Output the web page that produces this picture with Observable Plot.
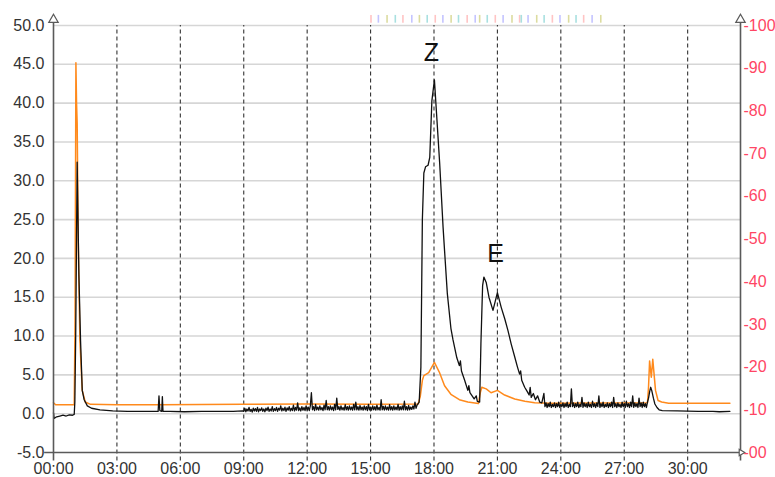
<!DOCTYPE html>
<html><head><meta charset="utf-8">
<script src="https://cdn.jsdelivr.net/npm/d3@7"></script>
<script src="https://cdn.jsdelivr.net/npm/@observablehq/plot@0.6"></script>
<style>body{margin:0;background:#fff} svg{display:block}</style>
</head><body><div id="chart"></div>
<script>
// ---- data (hours elapsed, value) ----
const leftTicks = [-5, 0, 5, 10, 15, 20, 25, 30, 35, 40, 45, 50];
const rightTicks = [100, 90, 80, 70, 60, 50, 40, 30, 20, 10, 0];
const rightTickLabels = ["100", "90", "80", "70", "60", "50", "40", "30", "20", "10", "00"];
const timeTicks = [0, 3, 6, 9, 12, 15, 18, 21, 24, 27, 30];
const gridHours = [3, 6, 9, 12, 15, 18, 21, 24, 27, 30];

const blackSegA = [[0,0.1],[0.03,-0.6],[0.15,-0.4],[0.3,-0.3],[0.45,-0.2],[0.6,-0.3],[0.75,-0.15],[0.9,-0.2],[0.98,-0.1],[1.01,1.5],[1.05,10],[1.12,32.4],[1.16,25],[1.2,18],[1.28,9.4],[1.36,3],[1.45,1.8],[1.6,1.0],[1.8,0.7],[2.2,0.5],[2.8,0.35],[3.5,0.3],[4.2,0.3],[4.95,0.3],[4.99,2.3],[5.03,0.4],[5.12,0.3],[5.15,2.2],[5.18,0.3],[5.5,0.3],[6.2,0.25],[7.0,0.3],[7.8,0.3],[8.5,0.3],[8.95,0.35]];
const blackSegB = [
[9.00,0.3],[9.05,0.7],[9.10,0.25],[9.15,0.6],[9.20,0.35],[9.25,0.8],[9.30,0.3],[9.35,0.55],[9.40,0.2],[9.45,0.7],
[9.50,0.35],[9.55,0.65],[9.60,0.3],[9.65,0.8],[9.70,0.25],[9.75,0.6],[9.80,0.4],[9.85,0.75],[9.90,0.3],[9.95,0.6],
[10.00,0.25],[10.05,0.7],[10.10,0.4],[10.15,0.85],[10.20,0.3],[10.25,0.6],[10.30,0.35],[10.35,0.9],[10.40,0.3],[10.45,0.65],
[10.50,0.4],[10.55,0.8],[10.60,0.3],[10.65,0.7],[10.70,0.45],[10.75,1.0],[10.80,0.35],[10.85,0.7],[10.90,0.4],[10.95,0.85],
[11.00,0.3],[11.05,0.75],[11.10,0.45],[11.15,0.9],[11.20,0.35],[11.25,0.7],[11.30,0.4],[11.35,1.1],[11.40,0.35],[11.45,0.8],
[11.50,0.45],[11.55,1.4],[11.60,0.4],[11.65,0.75],[11.70,0.35],[11.75,0.9],[11.80,0.45],[11.85,0.8],[11.90,0.4],[11.95,1.0],
[12.00,0.45],[12.05,0.85],[12.10,0.4],[12.15,1.0],[12.20,2.7],[12.25,0.5],[12.30,0.9],[12.35,0.4],[12.40,1.2],[12.45,0.5],
[12.50,0.85],[12.55,0.45],[12.60,1.0],[12.65,0.5],[12.70,0.8],[12.75,0.4],[12.80,1.1],[12.85,0.5],[12.90,1.7],[12.95,0.5],
[13.00,0.9],[13.05,0.45],[13.10,1.0],[13.15,0.5],[13.20,0.85],[13.25,0.4],[13.30,1.2],[13.35,0.5],[13.40,2.0],[13.45,0.55],
[13.50,0.9],[13.55,0.45],[13.60,1.0],[13.65,0.5],[13.70,0.8],[13.75,0.45],[13.80,1.15],[13.85,0.5],[13.90,0.9],[13.95,0.45],
[14.00,1.0],[14.05,0.5],[14.10,0.85],[14.15,0.45],[14.20,1.2],[14.25,0.5],[14.30,1.5],[14.35,0.5],[14.40,0.9],[14.45,0.45],
[14.50,1.05],[14.55,0.5],[14.60,0.85],[14.65,0.45],[14.70,1.0],[14.75,0.5],[14.80,0.9],[14.85,0.4],[14.90,1.2],[14.95,0.5],
[15.00,0.85],[15.05,0.45],[15.10,1.0],[15.15,0.5],[15.20,0.9],[15.25,0.45],[15.30,1.1],[15.35,0.5],[15.40,0.8],[15.45,0.45],
[15.50,1.8],[15.55,0.5],[15.60,0.95],[15.65,0.45],[15.70,1.0],[15.75,0.5],[15.80,0.85],[15.85,0.45],[15.90,1.15],[15.95,0.5],
[16.00,0.9],[16.05,0.45],[16.10,1.0],[16.15,0.5],[16.20,0.85],[16.25,0.5],[16.30,1.2],[16.35,0.45],[16.40,0.9],[16.45,0.5],
[16.50,1.0],[16.55,0.5],[16.60,1.6],[16.65,0.5],[16.70,0.9],[16.75,0.45],[16.80,1.05],[16.85,0.5],[16.90,0.85],[16.95,0.55],
[17.00,1.0],[17.05,0.6],[17.10,1.5],[17.15,0.7],[17.20,1.1]];
const blackSegC = [[17.3,1.5],[17.38,6],[17.45,25],[17.52,31],[17.6,31.8],[17.72,32],[17.8,33],[17.9,40.3],[18.02,43],[18.12,38.7],[18.27,32.2],[18.43,24],[18.5,21],[18.63,15.5],[18.8,11],[18.9,9.5],[19.08,7.2],[19.2,6.2],[19.25,6.8],[19.3,5.5],[19.45,4.3],[19.6,3.0],[19.65,3.6],[19.7,2.7],[19.9,1.9],[20.0,2.3],[20.05,1.6],[20.16,1.5],[20.22,9],[20.3,16.5],[20.36,17.6],[20.47,16.9],[20.6,15],[20.79,13.3],[20.9,14.5],[21.0,15.6],[21.18,13.7],[21.35,12.2],[21.5,10.7],[21.65,9],[21.82,7.3],[21.95,6],[22.05,5.1],[22.1,5.5],[22.15,4.3],[22.29,3.4],[22.4,2.9],[22.5,2.4],[22.55,3.4],[22.6,2.1],[22.7,2.6],[22.8,1.8],[22.9,2.3],[23.0,1.5],[23.1,1.4]];
const blackSegD = [
[23.20,2.6],[23.25,0.9],[23.30,1.4],[23.35,0.8],[23.40,1.3],[23.45,0.9],[23.50,1.5],[23.55,0.8],[23.60,1.2],[23.65,0.9],
[23.70,1.4],[23.75,0.8],[23.80,1.3],[23.85,0.9],[23.90,1.5],[23.95,0.8],[24.00,1.2],[24.05,0.9],[24.10,1.4],[24.15,0.8],
[24.20,1.3],[24.25,0.9],[24.30,1.5],[24.35,0.8],[24.40,1.2],[24.45,0.9],[24.50,3.2],[24.55,0.9],[24.60,1.4],[24.65,0.8],
[24.70,1.3],[24.75,0.9],[24.80,1.5],[24.85,0.8],[24.90,1.2],[24.95,0.9],[25.00,2.1],[25.05,0.8],[25.10,1.4],[25.15,0.9],
[25.20,1.3],[25.25,0.8],[25.30,1.5],[25.35,0.9],[25.40,1.2],[25.45,0.8],[25.50,1.6],[25.55,0.9],[25.60,1.3],[25.65,0.8],
[25.70,1.4],[25.75,0.9],[25.80,2.3],[25.85,0.8],[25.90,1.3],[25.95,0.9],[26.00,1.5],[26.05,0.8],[26.10,1.2],[26.15,0.9],
[26.20,1.4],[26.25,0.8],[26.30,1.3],[26.35,0.9],[26.40,1.5],[26.45,0.8],[26.50,2.1],[26.55,0.9],[26.60,1.3],[26.65,0.8],
[26.70,1.4],[26.75,0.9],[26.80,1.2],[26.85,0.8],[26.90,1.5],[26.95,0.9],[27.00,1.3],[27.05,0.8],[27.10,1.6],[27.15,0.9],
[27.20,1.3],[27.25,0.8],[27.30,1.5],[27.35,0.9],[27.40,2.3],[27.45,0.8],[27.50,1.4],[27.55,0.9],[27.60,1.3],[27.65,0.8],
[27.70,2.0],[27.75,0.9],[27.80,1.4],[27.85,0.8],[27.90,1.5],[27.95,0.9],[28.00,1.3],[28.05,0.8],[28.10,1.5],[28.15,2.0],
[28.2,2.8],[28.25,3.4],[28.3,3.0],[28.38,2.0],[28.45,1.25],[28.55,0.8],[28.65,0.5],[28.8,0.4],[29.5,0.35],[30.5,0.3],[31.2,0.3],[31.5,0.25],[32.0,0.3]];

const orangeSeries = [[0,1.4],[0.1,1.15],[0.98,1.15],[1.02,12],[1.06,45.2],[1.09,40],[1.12,37.4],[1.17,22.3],[1.25,9.4],[1.36,3.0],[1.5,1.5],[1.75,1.2],[3,1.15],[5,1.15],[9,1.2],[12,1.25],[15,1.2],[17.25,1.25],[17.35,2.2],[17.45,4.3],[17.52,4.9],[17.75,5.3],[18.02,6.6],[18.26,5.3],[18.5,3.6],[18.8,2.5],[19.2,1.8],[19.6,1.5],[20.1,1.3],[20.2,2.8],[20.26,3.4],[20.47,3.2],[20.7,2.7],[21.0,3.0],[21.34,2.4],[21.82,1.9],[22.3,1.6],[22.76,1.4],[23.5,1.35],[28.1,1.4],[28.15,3.5],[28.2,6.8],[28.28,4.7],[28.35,7.0],[28.48,3.0],[28.6,1.7],[28.77,1.5],[29.1,1.35],[32.0,1.35]];

const eventHours = [15.02,15.37,15.78,16.17,16.53,16.95,17.31,17.68,18.06,18.42,18.81,19.16,19.57,19.95,20.16,20.52,20.9,21.27,21.69,22.05,22.13,22.45,22.86,23.21,23.6,23.96,24.37,24.72,25.08,25.48,25.89];
const eventColors = ["#ffc4c4","#c4c4ff","#dcdca0","#a8e0e0","#ffc4c4","#c4c4ff","#dcdca0","#a8e0e0","#ffc4c4","#c4c4ff","#dcdca0","#a8e0e0","#ffc4c4","#c4c4ff","#dcdca0","#a8e0e0","#ffc4c4","#c4c4ff","#dcdca0","#ffc4c4","#a8e0e0","#c4c4ff","#dcdca0","#a8e0e0","#ffc4c4","#c4c4ff","#dcdca0","#a8e0e0","#ffc4c4","#c4c4ff","#dcdca0"];

const peakLabels = [{t: 17.88, v: 46.4, text: "Z"}, {t: 20.91, v: 20.6, text: "E"}];

// ---- build ----
const toRows = arr => arr.map(([t, v]) => ({t, v}));
const black = toRows([...blackSegA, ...blackSegB, ...blackSegC, ...blackSegD]);
const orange = toRows(orangeSeries);
const events = eventHours.map((t, i) => ({t, c: eventColors[i]}));
const xMax = 32.5;
const rightToLeft = r => -5 + r * 55 / 100;   // right axis 0..100 spans left -5..50
const rightRows = rightTicks.map((r, i) => ({y: rightToLeft(r), label: "-" + rightTickLabels[i]}));
const fmt = d => String(d).padStart(2, "0") + ":00";
const red = "#ff4564";
const axisColor = "#5a5a5a";
const rightArrow = {draw(ctx, size) { const r = Math.sqrt(size / 3); ctx.moveTo(-r * 0.7, -r); ctx.lineTo(r, 0); ctx.lineTo(-r * 0.7, r); ctx.closePath(); }};

const chart = Plot.plot({
  width: 775, height: 477,
  marginLeft: 53, marginRight: 35, marginTop: 25, marginBottom: 25,
  x: {domain: [0, xMax], label: null},
  y: {domain: [-5, 50], label: null},
  style: {fontFamily: "'Liberation Sans', Arial, sans-serif", fontSize: "16px", color: "#333", background: "#fff"},
  marks: [
    Plot.ruleY(leftTicks.filter(d => d > -5), {stroke: "#d6d6d6", strokeWidth: 1.6}),
    Plot.ruleX(gridHours, {y1: -6.1, y2: 50, stroke: "#333", strokeDasharray: "4,3", strokeWidth: 1.1}),
    Plot.ruleX(events, {x: "t", y1: 50.3, y2: 51.3, stroke: "c", strokeWidth: 1.6}),
    Plot.line(orange, {x: "t", y: "v", stroke: "#ff8a1c", strokeWidth: 1.5}),
    Plot.line(black, {x: "t", y: "v", stroke: "#111", strokeWidth: 1.3}),
    Plot.ruleY([-5], {x1: -0.42, x2: xMax, stroke: axisColor, strokeWidth: 1.6}),
    Plot.ruleX([0, xMax], {y1: -6.1, y2: 50.6, stroke: axisColor, strokeWidth: 1.6}),
    Plot.dot([0, xMax], {x: d => d, y: 50.75, symbol: "triangle", r: 3.5, fill: "#fff", stroke: axisColor, strokeWidth: 1.2}),
    Plot.dot([xMax], {x: d => d, y: -5, symbol: rightArrow, r: 3.2, fill: "#fff", stroke: axisColor, strokeWidth: 1.2, dx: 1}),
    Plot.axisY(leftTicks, {tickSize: 0, tickPadding: 9, tickFormat: d => d.toFixed(1), fill: "#333"}),
    Plot.axisX(timeTicks, {tickSize: 0, tickPadding: 10, tickFormat: fmt, fill: "#333"}),
    Plot.text(rightRows, {x: xMax, y: "y", text: "label", textAnchor: "start", dx: 3, fill: red}),
    Plot.text(peakLabels, {x: "t", y: "v", text: "text", fontSize: 25, fill: "#111"})
  ]
});
document.getElementById("chart").appendChild(chart);
</script>
</body></html>
